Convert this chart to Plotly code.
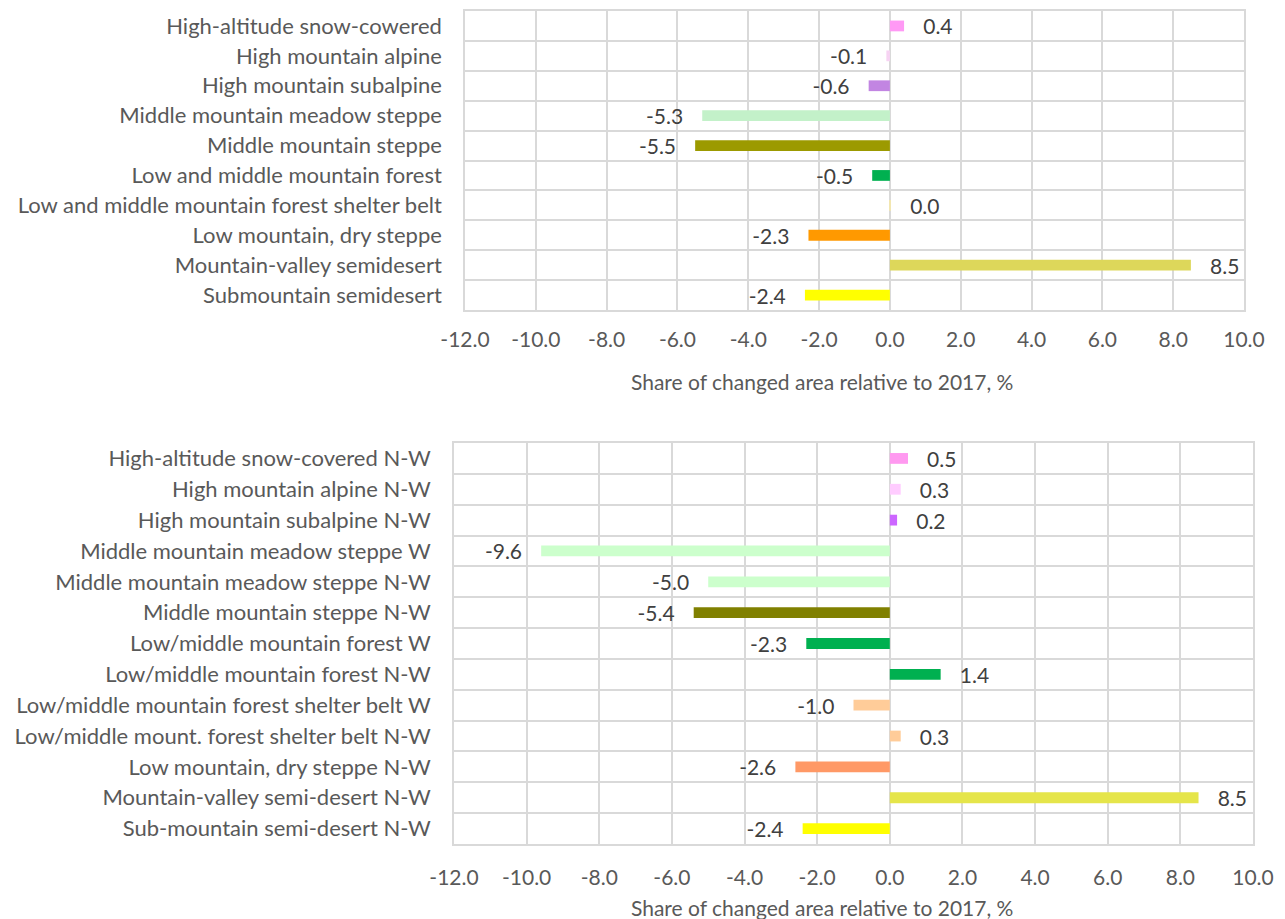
import plotly.graph_objects as go

# page body has an 8px margin; figure coordinates below are page coords - 8
W, H = 1277, 911
OFF = 8

top_categories = [
    "High-altitude snow-cowered",
    "High mountain alpine",
    "High mountain subalpine",
    "Middle mountain meadow steppe",
    "Middle mountain steppe",
    "Low and middle mountain forest",
    "Low and middle mountain forest shelter belt",
    "Low mountain, dry steppe",
    "Mountain-valley semidesert",
    "Submountain semidesert",
]
top_values = [0.4, -0.1, -0.6, -5.3, -5.5, -0.5, 0.03, -2.3, 8.5, -2.4]
top_colors = ["#FF99F5", "#F7D3F3", "#C285E2", "#C3F1C9", "#9C9A00",
              "#00B050", "#F2E6B0", "#FF9900", "#DDD75A", "#FFFF00"]

bottom_categories = [
    "High-altitude snow-covered N-W",
    "High mountain alpine N-W",
    "High mountain subalpine N-W",
    "Middle mountain meadow steppe W",
    "Middle mountain meadow steppe N-W",
    "Middle mountain steppe N-W",
    "Low/middle mountain forest W",
    "Low/middle mountain forest N-W",
    "Low/middle mountain forest shelter belt W",
    "Low/middle mount. forest shelter belt N-W",
    "Low mountain, dry steppe N-W",
    "Mountain-valley semi-desert N-W",
    "Sub-mountain semi-desert N-W",
]
bottom_values = [0.5, 0.3, 0.2, -9.6, -5.0, -5.4, -2.3, 1.4, -1.0, 0.3, -2.6, 8.5, -2.4]
bottom_colors = ["#FF99F0", "#FFCCFF", "#CC66FF", "#CCFFCC", "#CCFFCC",
                 "#808000", "#00B050", "#00B050", "#FFCC99", "#FFCC99",
                 "#FF9966", "#E5E54A", "#FFFF00"]

x_ticks = [-12, -10, -8, -6, -4, -2, 0, 2, 4, 6, 8, 10]
x_tick_labels = [f"{t:.1f}" for t in x_ticks]
axis_title = "Share of changed area relative to 2017, %"

FONT = "Lato"
FS = 21
TXT = "#595959"
GRID = "#D9D9D9"
SP = "\u00a0\u00a0\u00a0"


def labels(vals):
    return [(SP + f"{v:.1f}") if v >= 0 else (f"{v:.1f}" + SP) for v in vals]


fig = go.Figure()
fig.add_trace(go.Bar(
    y=top_categories, x=top_values, orientation="h",
    marker=dict(color=top_colors, line=dict(width=0)),
    width=0.36, text=labels(top_values), textposition="outside",
    textfont=dict(family=FONT, size=FS, color="#404040"),
    cliponaxis=False, constraintext="none",
    xaxis="x", yaxis="y", showlegend=False, hoverinfo="x+y",
))
fig.add_trace(go.Bar(
    y=bottom_categories, x=bottom_values, orientation="h",
    marker=dict(color=bottom_colors, line=dict(width=0)),
    width=0.35, text=labels(bottom_values), textposition="outside",
    textfont=dict(family=FONT, size=FS, color="#404040"),
    cliponaxis=False, constraintext="none",
    xaxis="x2", yaxis="y2", showlegend=False, hoverinfo="x+y",
))


def px_x(v):
    return (v - OFF) / W


def px_y(v):
    return 1 - (v - OFF) / H


def xax(x0, x1, anchor, ticklen):
    return dict(
        domain=[px_x(x0), px_x(x1)], anchor=anchor, range=[-12, 10],
        tickvals=x_ticks, ticktext=x_tick_labels,
        showgrid=True, gridcolor=GRID, gridwidth=1.5,
        zeroline=True, zerolinecolor=GRID, zerolinewidth=1.5,
        showline=True, linecolor=GRID, linewidth=1.5, mirror=True,
        ticks="outside", ticklen=ticklen, tickcolor="rgba(0,0,0,0)",
        tickfont=dict(family=FONT, size=FS, color=TXT),
        automargin=False, fixedrange=True,
    )


def yax(y_top, y_bot, anchor, cats):
    n = len(cats)
    return dict(
        domain=[px_y(y_bot), px_y(y_top)], anchor=anchor, type="category",
        categoryorder="array", categoryarray=cats,
        range=[n - 0.5, -0.5], tickson="boundaries",
        showgrid=True, gridcolor=GRID, gridwidth=1.5,
        showline=True, linecolor=GRID, linewidth=1.5, mirror=True,
        ticks="", ticklabelstandoff=17,
        tickfont=dict(family=FONT, size=22, color=TXT),
        automargin=False, fixedrange=True,
    )


fig.update_layout(
    width=W, height=H,
    margin=dict(l=0, r=0, t=0, b=0),
    paper_bgcolor="white", plot_bgcolor="white",
    xaxis=xax(465, 1244, "y", 10),
    yaxis=yax(11, 310, "x", top_categories),
    xaxis2=xax(454, 1253, "y2", 14),
    yaxis2=yax(443, 844, "x2", bottom_categories),
    annotations=[
        dict(text=axis_title, xref="paper", yref="paper", x=px_x(822), y=px_y(381),
             xanchor="center", yanchor="middle", showarrow=False,
             font=dict(family=FONT, size=FS, color=TXT)),
        dict(text=axis_title, xref="paper", yref="paper", x=px_x(822), y=px_y(907),
             xanchor="center", yanchor="middle", showarrow=False,
             font=dict(family=FONT, size=FS, color=TXT)),
    ],
)

fig.write_html("out.html")
